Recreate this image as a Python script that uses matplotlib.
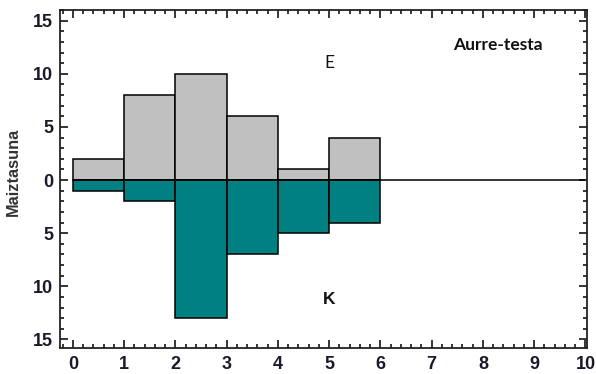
import numpy as np
import matplotlib.pyplot as plt
from matplotlib.ticker import MultipleLocator, FuncFormatter

plt.rcParams["font.family"] = "Liberation Sans"

# bin edges and counts for the two groups (E above, K below the axis)
bin_left = [0, 1, 2, 3, 4, 5]
counts_e = [2, 8, 10, 6, 1, 4]
counts_k = [1, 2, 13, 7, 5, 4]

fig = plt.figure(figsize=(5.96, 3.74), dpi=100)
ax = fig.add_axes([60 / 596, 1 - 348 / 374, 527 / 596, 338 / 374])

ax.bar(bin_left, counts_e, width=1, align="edge", color="#c0c0c0",
       edgecolor="black", linewidth=1.1, zorder=2)
ax.bar(bin_left, [-c for c in counts_k], width=1, align="edge", color="#008080",
       edgecolor="black", linewidth=1.1, zorder=2)
ax.hlines(0, 0, 10, color="black", lw=1.1, zorder=3)

ax.set_xlim(-0.25, 10.03)
ax.set_ylim(-15.8, 16.0)

ax.xaxis.set_major_locator(MultipleLocator(1))
ax.xaxis.set_minor_locator(MultipleLocator(0.2))
ax.yaxis.set_major_locator(MultipleLocator(5))
ax.yaxis.set_minor_locator(MultipleLocator(1))
ax.yaxis.set_major_formatter(FuncFormatter(lambda v, p: f"{abs(v):.0f}"))

ax.tick_params(which="both", direction="in", top=True, right=True,
               labelsize=13, labelcolor="#1a1a2a", width=1.1)
ax.tick_params(which="major", length=6)
ax.tick_params(which="minor", length=3)
for lab in ax.get_xticklabels() + ax.get_yticklabels():
    lab.set_fontweight("bold")
ax.tick_params(axis="x", pad=6)
ax.tick_params(axis="y", pad=5)
for s in ax.spines.values():
    s.set_linewidth(1.3)
    s.set_color("#222222")

ax.set_ylabel("Maiztasuna", fontsize=11.8, fontweight="bold", color="#333333")
ax.yaxis.set_label_coords(-0.075, 0.52)

ax.text(5, 11.0, "E", ha="center", va="center", fontsize=12.5,
        family="Lato", color="#111111")
ax.text(5, -11.2, "K", ha="center", va="center", fontsize=12.5,
        fontweight="bold", color="#111111")
ax.text(8.3, 12.7, "Aurre-testa", ha="center", va="center", fontsize=12.5,
        family="Lato", fontweight="bold", color="#111111")

fig.savefig("out.png", dpi=100)
